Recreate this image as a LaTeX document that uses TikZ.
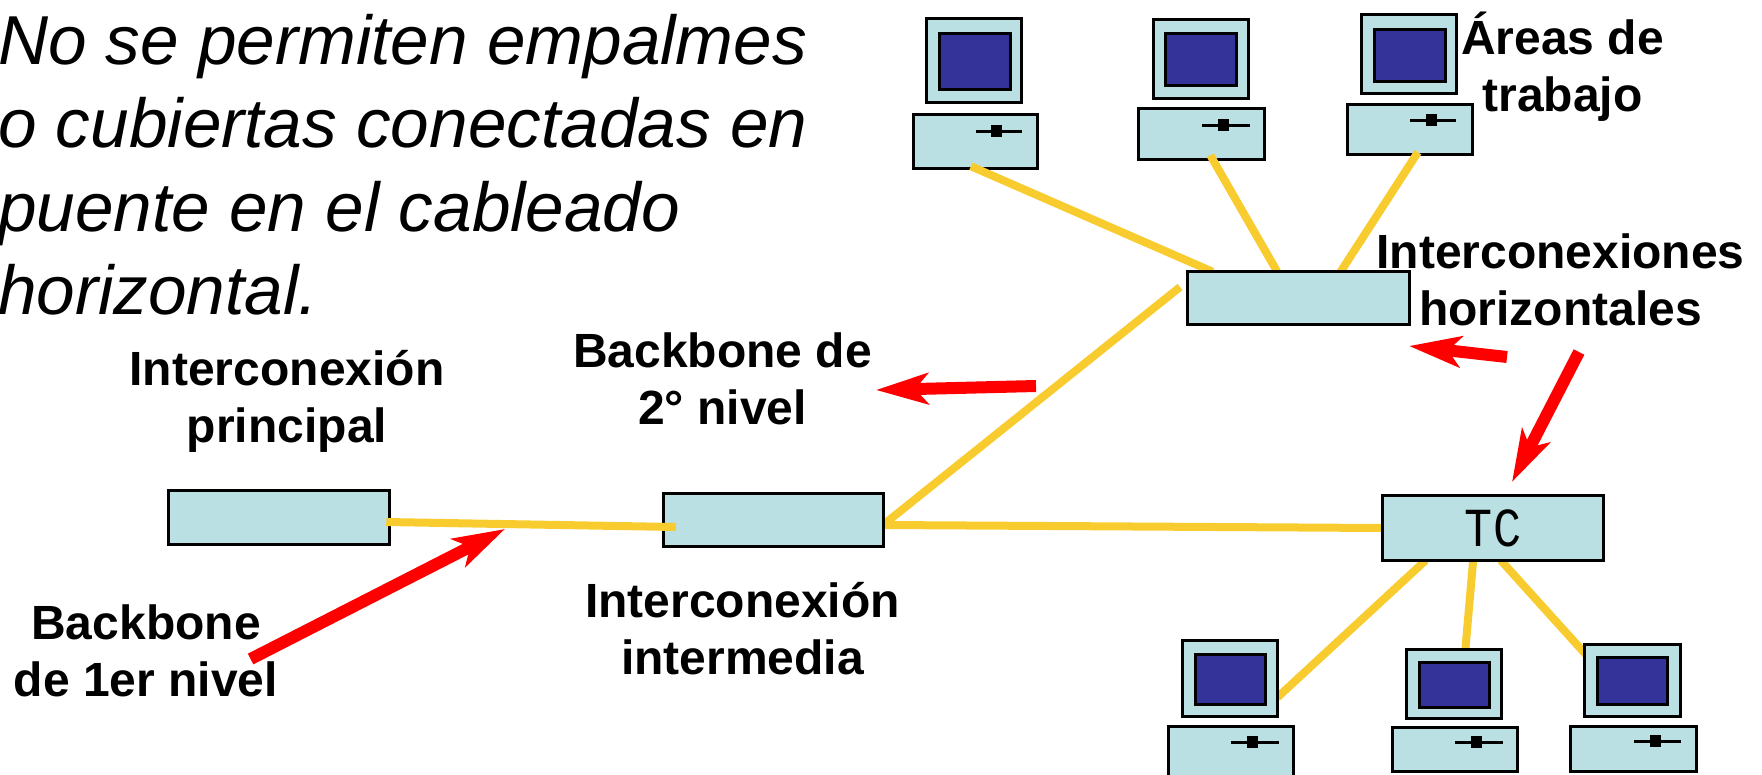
\documentclass[tikz,border=0pt]{standalone}
\usepackage{fontspec}
\setmainfont{Liberation Sans}
\newfontfamily\tcfont[FakeStretch=0.85]{Liberation Mono}
\usetikzlibrary{arrows.meta,calc}
\pgfdeclarelayer{low}
\pgfdeclarelayer{wires}
\pgfsetlayers{low,wires,main}
\definecolor{boxfill}{RGB}{186,224,227}
\definecolor{screenblue}{RGB}{51,51,153}
\definecolor{wireyellow}{RGB}{248,204,47}
\newcommand{\bx}[6]{\node[#6,minimum width={(#4-#2-1.5)*1pt},minimum height={(#5-#3-1.5)*1pt}] (#1) at ({(#2+#4)/2},{(#3+#5)/2}) {};}
\tikzset{
  x=1pt,y=-1pt,
  unitbox/.style={draw=black,line width=3pt,fill=boxfill,inner sep=0pt,outer sep=0pt},
  screenbox/.style={draw=black,line width=3pt,fill=screenblue,inner sep=0pt,outer sep=0pt},
  slotbox/.style={draw=none,fill=black,inner sep=0pt,outer sep=0pt},
  wire/.style={draw=wireyellow,line width=8pt},
  pointer/.style={draw=red,line width=12pt,-{Stealth[length=52pt,width=31pt,inset=13pt]}},
  lbl/.style={font=\bfseries\fontsize{48}{57}\selectfont,align=center,inner sep=0pt,anchor=center},
}
\begin{document}
\begin{tikzpicture}
\useasboundingbox (0,0) rectangle (1762,774);
\begin{pgfonlayer}{low}
\bx{monA}{926}{18}{1022}{103}{unitbox}
\bx{scrA}{939}{33}{1011}{90}{screenbox}
\bx{baseA}{912.5}{114}{1038}{169}{unitbox}
\node[slotbox,minimum width=46pt,minimum height=3pt] (slA) at (999,131) {};
\node[slotbox,minimum width=11pt,minimum height=12pt] (knA) at (996.5,131) {};
\bx{monB}{1153}{19}{1249}{99}{unitbox}
\bx{scrB}{1165}{33}{1237.5}{86}{screenbox}
\bx{baseB}{1138}{108}{1265}{160}{unitbox}
\node[slotbox,minimum width=48pt,minimum height=3pt] (slB) at (1226,125) {};
\node[slotbox,minimum width=11pt,minimum height=12pt] (knB) at (1223,125) {};
\bx{monC}{1361}{14}{1457}{94}{unitbox}
\bx{scrC}{1373.5}{29}{1446}{82}{screenbox}
\bx{baseC}{1347}{104}{1473}{155}{unitbox}
\node[slotbox,minimum width=46pt,minimum height=3pt] (slC) at (1433,120) {};
\node[slotbox,minimum width=11pt,minimum height=12pt] (knC) at (1431.5,120) {};
\end{pgfonlayer}
% distribution boxes
\bx{hc}{1187}{271}{1410}{325}{unitbox}
\bx{ic}{168}{490}{390}{545}{unitbox}
\bx{im}{663}{493}{884}{547}{unitbox}
\node[unitbox,minimum width=220.5pt,minimum height=64.5pt,font=\tcfont\fontsize{55}{55}\selectfont,text=black] (tc) at (1493,528) {TC};
% bottom computers
\bx{monD}{1182}{640}{1278}{717}{unitbox}
\bx{scrD}{1194.6}{654}{1266.4}{705}{screenbox}
\bx{baseD}{1168}{726}{1294}{778}{unitbox}
\node[slotbox,minimum width=47.5pt,minimum height=3pt] (slD) at (1255,742) {};
\node[slotbox,minimum width=11pt,minimum height=12pt] (knD) at (1252,742) {};
\bx{monE}{1406}{649}{1502}{719}{unitbox}
\bx{scrE}{1418.6}{662}{1490}{708}{screenbox}
\bx{baseE}{1392}{727}{1518}{772}{unitbox}
\node[slotbox,minimum width=48pt,minimum height=3pt] (slE) at (1479,742) {};
\node[slotbox,minimum width=11pt,minimum height=12pt] (knE) at (1476.5,742) {};
\bx{monF}{1584}{644}{1681}{717}{unitbox}
\bx{scrF}{1597}{657}{1668.6}{705}{screenbox}
\bx{baseF}{1570}{726}{1697}{772}{unitbox}
\node[slotbox,minimum width=47pt,minimum height=3pt] (slF) at (1657.5,741) {};
\node[slotbox,minimum width=11pt,minimum height=12pt] (knF) at (1655.5,741) {};
\coordinate (hcfree) at (1180,287);
\begin{pgfonlayer}{wires}
\draw[wire] ($(baseA.south west)!.465!(baseA.south east)+(0,-2)$) -- ($(hc.north west)!.112!(hc.north east)$);
\draw[wire] ($(baseB.south west)!.57!(baseB.south east)+(0,-4)$) -- ($(hc.north west)!.404!(hc.north east)$);
\draw[wire] ($(baseC.south west)!.563!(baseC.south east)+(0,-2)$) -- ($(hc.north west)!.69!(hc.north east)$);
\draw[wire] ($(im.east)+(1,4)$) -- (hcfree);
\draw[wire] ($(im.east)+(1,5)$) -- (tc.west);
\draw[wire] ($(tc.south west)!.195!(tc.south east)$) -- ($(monD.east)+(0,19)$);
\draw[wire] ($(tc.south west)!.41!(tc.south east)$) -- ($(monE.north west)!.62!(monE.north east)$);
\draw[wire] ($(tc.south west)!.535!(tc.south east)$) -- ($(monF.west)+(2,-25)$);
\end{pgfonlayer}
\draw[wire] ($(ic.east)+(-3,4.5)$) -- ($(im.west)+(12,7)$);
% pointers
\coordinate (pa0) at (1507,357); \coordinate (pa1) at (1409,346);
\coordinate (pb0) at (1579,352); \coordinate (pb1) at (1512,482);
\coordinate (pc0) at (250.6,659); \coordinate (pc1) at (505,529);
\coordinate (pd0) at (1036,386); \coordinate (pd1) at (876,390);
\draw[pointer] (pa0) -- (pa1);
\draw[pointer] (pb0) -- (pb1);
\draw[pointer] (pc0) -- (pc1);
\draw[pointer] (pd0) -- (pd1);
% texts
\node[font=\itshape\fontsize{69.3}{83.5}\selectfont,align=left,inner sep=0pt,anchor=north west] (title) at (-2,14) {No se permiten empalmes\\o cubiertas conectadas en\\puente en el cableado\\horizontal.};
\node[lbl] (lareas) at (1562.5,67) {Áreas de\\trabajo};
\node[lbl] (lhoriz) at (1560.5,280) {Interconexiones\\horizontales};
\node[lbl] (lb2) at (722.5,378.5) {Backbone de\\2° nivel};
\node[lbl] (lprin) at (287,401.5) {Interconexión\\principal};
\node[lbl] (lint) at (742.5,628.5) {Interconexión\\intermedia};
\node[lbl] (lb1) at (146,651) {Backbone\\de 1er nivel};
\end{tikzpicture}
\end{document}
